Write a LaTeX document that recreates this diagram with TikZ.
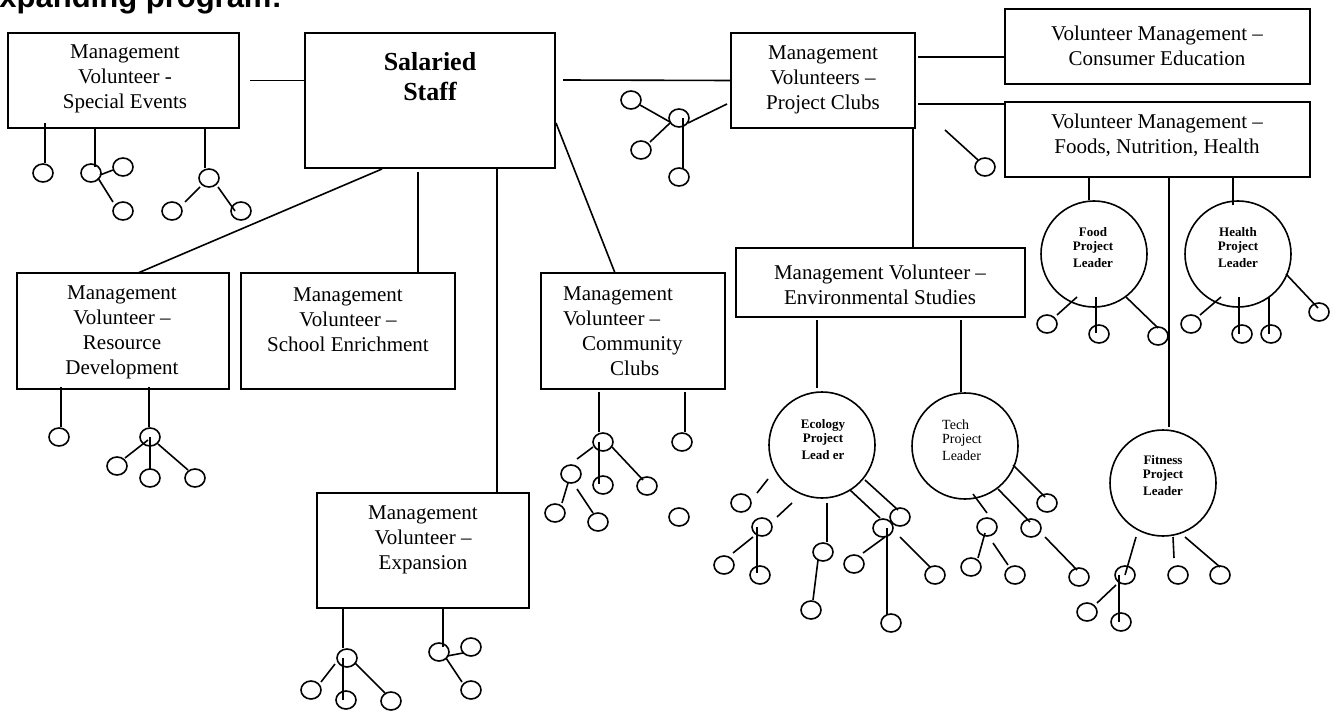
\documentclass[tikz,border=0pt]{standalone}
\usepackage{fontspec}
\setmainfont{Liberation Serif}
\newfontfamily\hfont{Liberation Sans}
\usetikzlibrary{shapes.geometric}
\tikzset{
  box/.style={draw, line width=1.6pt, inner sep=0pt},
  lbl/.style={font=\fontsize{21}{25}\selectfont, align=center, inner sep=0pt},
  leader/.style={draw, circle, line width=1.6pt, minimum size=106pt, inner sep=0pt},
  ltxt/.style={font=\fontsize{13}{14}\selectfont\bfseries, align=center, inner sep=0pt},
  dot/.style={draw, ellipse, line width=1.6pt, minimum width=20pt, minimum height=18pt, inner sep=0pt},
  ln/.style={line width=1.6pt},
}
\begin{document}
\begin{tikzpicture}[x=1pt, y=-1pt]
\useasboundingbox (0,0) rectangle (1337,711);
\clip (0,0) rectangle (1337,711);
% title
\node[anchor=base west, font=\hfont\bfseries\fontsize{31}{36}\selectfont, inner sep=0pt] (title) at (-18,8) {expanding program:};

% boxes
\node[box, minimum width=231pt, minimum height=95pt] (spev) at (123.5,80.5) {};
\node[lbl] (spevT) at (125,79) {Management\\Volunteer -\\Special Events};
\node[box, minimum width=250pt, minimum height=135pt] (staff) at (430,100.5) {};
\node[font=\fontsize{26}{30}\selectfont\bfseries, align=center, inner sep=0pt] (staffT) at (430,77) {Salaried\\Staff};
\node[box, minimum width=184pt, minimum height=95pt] (pclub) at (823,80.5) {};
\node[lbl] (pclubT) at (823,80) {Management\\Volunteers --\\Project Clubs};
\node[box, minimum width=305pt, minimum height=75pt] (cons) at (1157.5,46.5) {};
\node[lbl] (consT) at (1157,46) {Volunteer Management --\\Consumer Education};
\node[box, minimum width=305pt, minimum height=75pt] (fnh) at (1157.5,139.5) {};
\node[lbl] (fnhT) at (1157,135) {Volunteer Management --\\Foods, Nutrition, Health};
\node[box, minimum width=212pt, minimum height=116pt] (resdev) at (123,331) {};
\node[lbl] (resdevT) at (122,332) {Management\\Volunteer --\\Resource\\Development};
\node[box, minimum width=214pt, minimum height=116pt] (school) at (348,331) {};
\node[lbl] (schoolT) at (348,320) {Management\\Volunteer --\\School Enrichment};
\node[box, minimum width=184pt, minimum height=116pt] (comm) at (633,331) {};
\node[lbl, align=left, anchor=west] (commT) at (563,331) {Management\\Volunteer --\\\hspace*{19pt}Community\\\hspace*{47pt}Clubs};
\node[box, minimum width=212pt, minimum height=115pt] (expan) at (423,550.5) {};
\node[lbl] (expanT) at (423,540) {Management\\Volunteer --\\Expansion};
\node[box, minimum width=289pt, minimum height=69pt] (env) at (880.5,282.5) {};
\node[lbl] (envT) at (880,285) {Management Volunteer --\\Environmental Studies};

% leaders
\node[leader] (eco) at (822,445) {};
\node[ltxt] (ecoT) at (823,440) {Ecology\\Project\\[3pt]Lead er};
\node[leader] (tech) at (965,446) {};
\node[font=\fontsize{14}{14}\selectfont, align=left, anchor=west, inner sep=0pt] (techT) at (942,440) {Tech\\Project\\[3pt]Leader};
\node[leader] (food) at (1094,254) {};
\node[ltxt] (foodT) at (1093,248) {Food\\Project\\[3pt]Leader};
\node[leader] (health) at (1238,254) {};
\node[ltxt] (healthT) at (1238,248) {Health\\Project\\[3pt]Leader};
\node[leader] (fit) at (1163,483) {};
\node[ltxt] (fitT) at (1163,476) {Fitness\\Project\\[3pt]Leader};

% main connectors
\draw[ln] ([xshift=10pt]spev.east) -- (spev.east -| staff.west);
\draw[ln] (563,80) -- (pclub.west);
\draw[ln] (918,57) -- (cons.west |- 918,57);
\draw[ln] (918,104) -- (fnh.west |- 918,104);
\draw[ln] (382,169) -- (138,273);
\draw[ln] (418,172) -- (school.north -| 418,0);
\draw[ln] (497,167) -- (expan.north -| 497,0);
\draw[ln] (556,123) -- (615,273);
\draw[ln] (913,128) -- (env.north -| 913,0);
\draw[ln] (817,320) -- (817,388);
\draw[ln] (961,320) -- (961,392);
\draw[ln] (1089,177) -- (food.north -| 1089,0);
\draw[ln] (1233,177) -- (1233,205);
\draw[ln] (1169,177) -- (1169,427);

% Special events children
\foreach \n/\p in {a1/{43,173}, a2/{91,173}, a3/{123,167}, a4/{123,211}, a5/{209,178}, a6/{172,211}, a7/{241,211}}
  \node[dot] (\n) at (\p) {};
\draw[ln] (45,123) -- (45,163);
\draw[ln] (95,128) -- (95,167);
\draw[ln] (100,175) -- (113,170);
\draw[ln] (98,178) -- (113,202);
\draw[ln] (205,128) -- (205,168);
\draw[ln] (200,187) -- (185,202);
\draw[ln] (218,187) -- (235,211);

% Project clubs children
\foreach \n/\p in {b1/{679,118}, b2/{631,100}, b3/{641,150}, b4/{679,177}, b5/{985,167}}
  \node[dot] (\n) at (\p) {};
\draw[ln] (688,123) -- (727,104);
\draw[ln] (640,105) -- (670,122);
\draw[ln] (650,142) -- (670,123);
\draw[ln] (683,118) -- (683,168);
\draw[ln] (945,130) -- (978,160);

% Resource development children
\foreach \n/\p in {c1/{59,437}, c2/{150,437}, c3/{117,466}, c4/{150,478}, c5/{195,478}}
  \node[dot] (\n) at (\p) {};
\draw[ln] (61,387) -- (61,427);
\draw[ln] (149,387) -- (149,427);
\draw[ln] (148,440) -- (125,458);
\draw[ln] (150,437) -- (150,470);
\draw[ln] (158,444) -- (188,470);

% Community clubs children
\foreach \n/\p in {d1/{603,442}, d2/{682,442}, d3/{603,485}, d4/{647,486}, d5/{571,474}, d6/{555,513}, d7/{598,522}, d8/{679,517}}
  \node[dot] (\n) at (\p) {};
\draw[ln] (599,392) -- (599,432);
\draw[ln] (685,392) -- (685,432);
\draw[ln] (599,442) -- (599,484);
\draw[ln] (612,447) -- (643,480);
\draw[ln] (593,447) -- (577,459);
\draw[ln] (568,483) -- (562,503);
\draw[ln] (577,489) -- (593,513);

% Expansion children
\foreach \n/\p in {e1/{347,658}, e2/{311,690}, e3/{346,700}, e4/{391,701}, e5/{439,652}, e6/{471,647}, e7/{471,690}}
  \node[dot] (\n) at (\p) {};
\draw[ln] (343,608) -- (343,648);
\draw[ln] (335,664) -- (321,682);
\draw[ln] (343,658) -- (343,700);
\draw[ln] (355,663) -- (385,693);
\draw[ln] (443,608) -- (443,647);
\draw[ln] (447,656) -- (463,653);
\draw[ln] (446,658) -- (462,682);

% Ecology children
\foreach \n/\p in {f1/{741,503}, f2/{762,527}, f3/{724,565}, f4/{760,575}, f5/{823,552}, f6/{811,610}, f7/{883,528}, f8/{900,517}, f9/{854,564}, f10/{891,623}, f11/{935,575}}
  \node[dot] (\n) at (\p) {};
\draw[ln] (768,479) -- (757,493);
\draw[ln] (792,503) -- (777,517);
\draw[ln] (753,537) -- (733,553);
\draw[ln] (757,527) -- (757,573);
\draw[ln] (827,503) -- (827,542);
\draw[ln] (818,560) -- (813,600);
\draw[ln] (850,490) -- (880,518);
\draw[ln] (865,480) -- (898,510);
\draw[ln] (885,537) -- (863,553);
\draw[ln] (887,528) -- (887,615);
\draw[ln] (900,537) -- (930,567);

% Tech children
\foreach \n/\p in {g1/{987,527}, g2/{971,567}, g3/{1015,575}, g4/{1031,528}, g5/{1079,577}, g6/{1047,503}}
  \node[dot] (\n) at (\p) {};
\draw[ln] (973,494) -- (987,513);
\draw[ln] (985,533) -- (978,558);
\draw[ln] (993,543) -- (1008,565);
\draw[ln] (998,489) -- (1030,522);
\draw[ln] (1045,537) -- (1077,570);
\draw[ln] (1013,465) -- (1045,497);

% Food children
\foreach \n/\p in {h1/{1047,324}, h2/{1099,334}, h3/{1158,336}}
  \node[dot] (\n) at (\p) {};
\draw[ln] (1077,297) -- (1057,315);
\draw[ln] (1096,297) -- (1096,333);
\draw[ln] (1126,297) -- (1158,328);

% Health children
\foreach \n/\p in {i1/{1191,324}, i2/{1242,334}, i3/{1271,334}, i4/{1319,312}}
  \node[dot] (\n) at (\p) {};
\draw[ln] (1221,297) -- (1200,315);
\draw[ln] (1239,297) -- (1239,334);
\draw[ln] (1269,297) -- (1269,334);
\draw[ln] (1286,274) -- (1318,308);

% Fitness children
\foreach \n/\p in {k1/{1125,575}, k2/{1087,612}, k3/{1121,622}, k4/{1178,575}, k5/{1220,575}}
  \node[dot] (\n) at (\p) {};
\draw[ln] (1136,537) -- (1125,575);
\draw[ln] (1116,585) -- (1097,603);
\draw[ln] (1119,575) -- (1119,622);
\draw[ln] (1173,537) -- (1174,558);
\draw[ln] (1185,537) -- (1220,567);
\end{tikzpicture}
\end{document}
